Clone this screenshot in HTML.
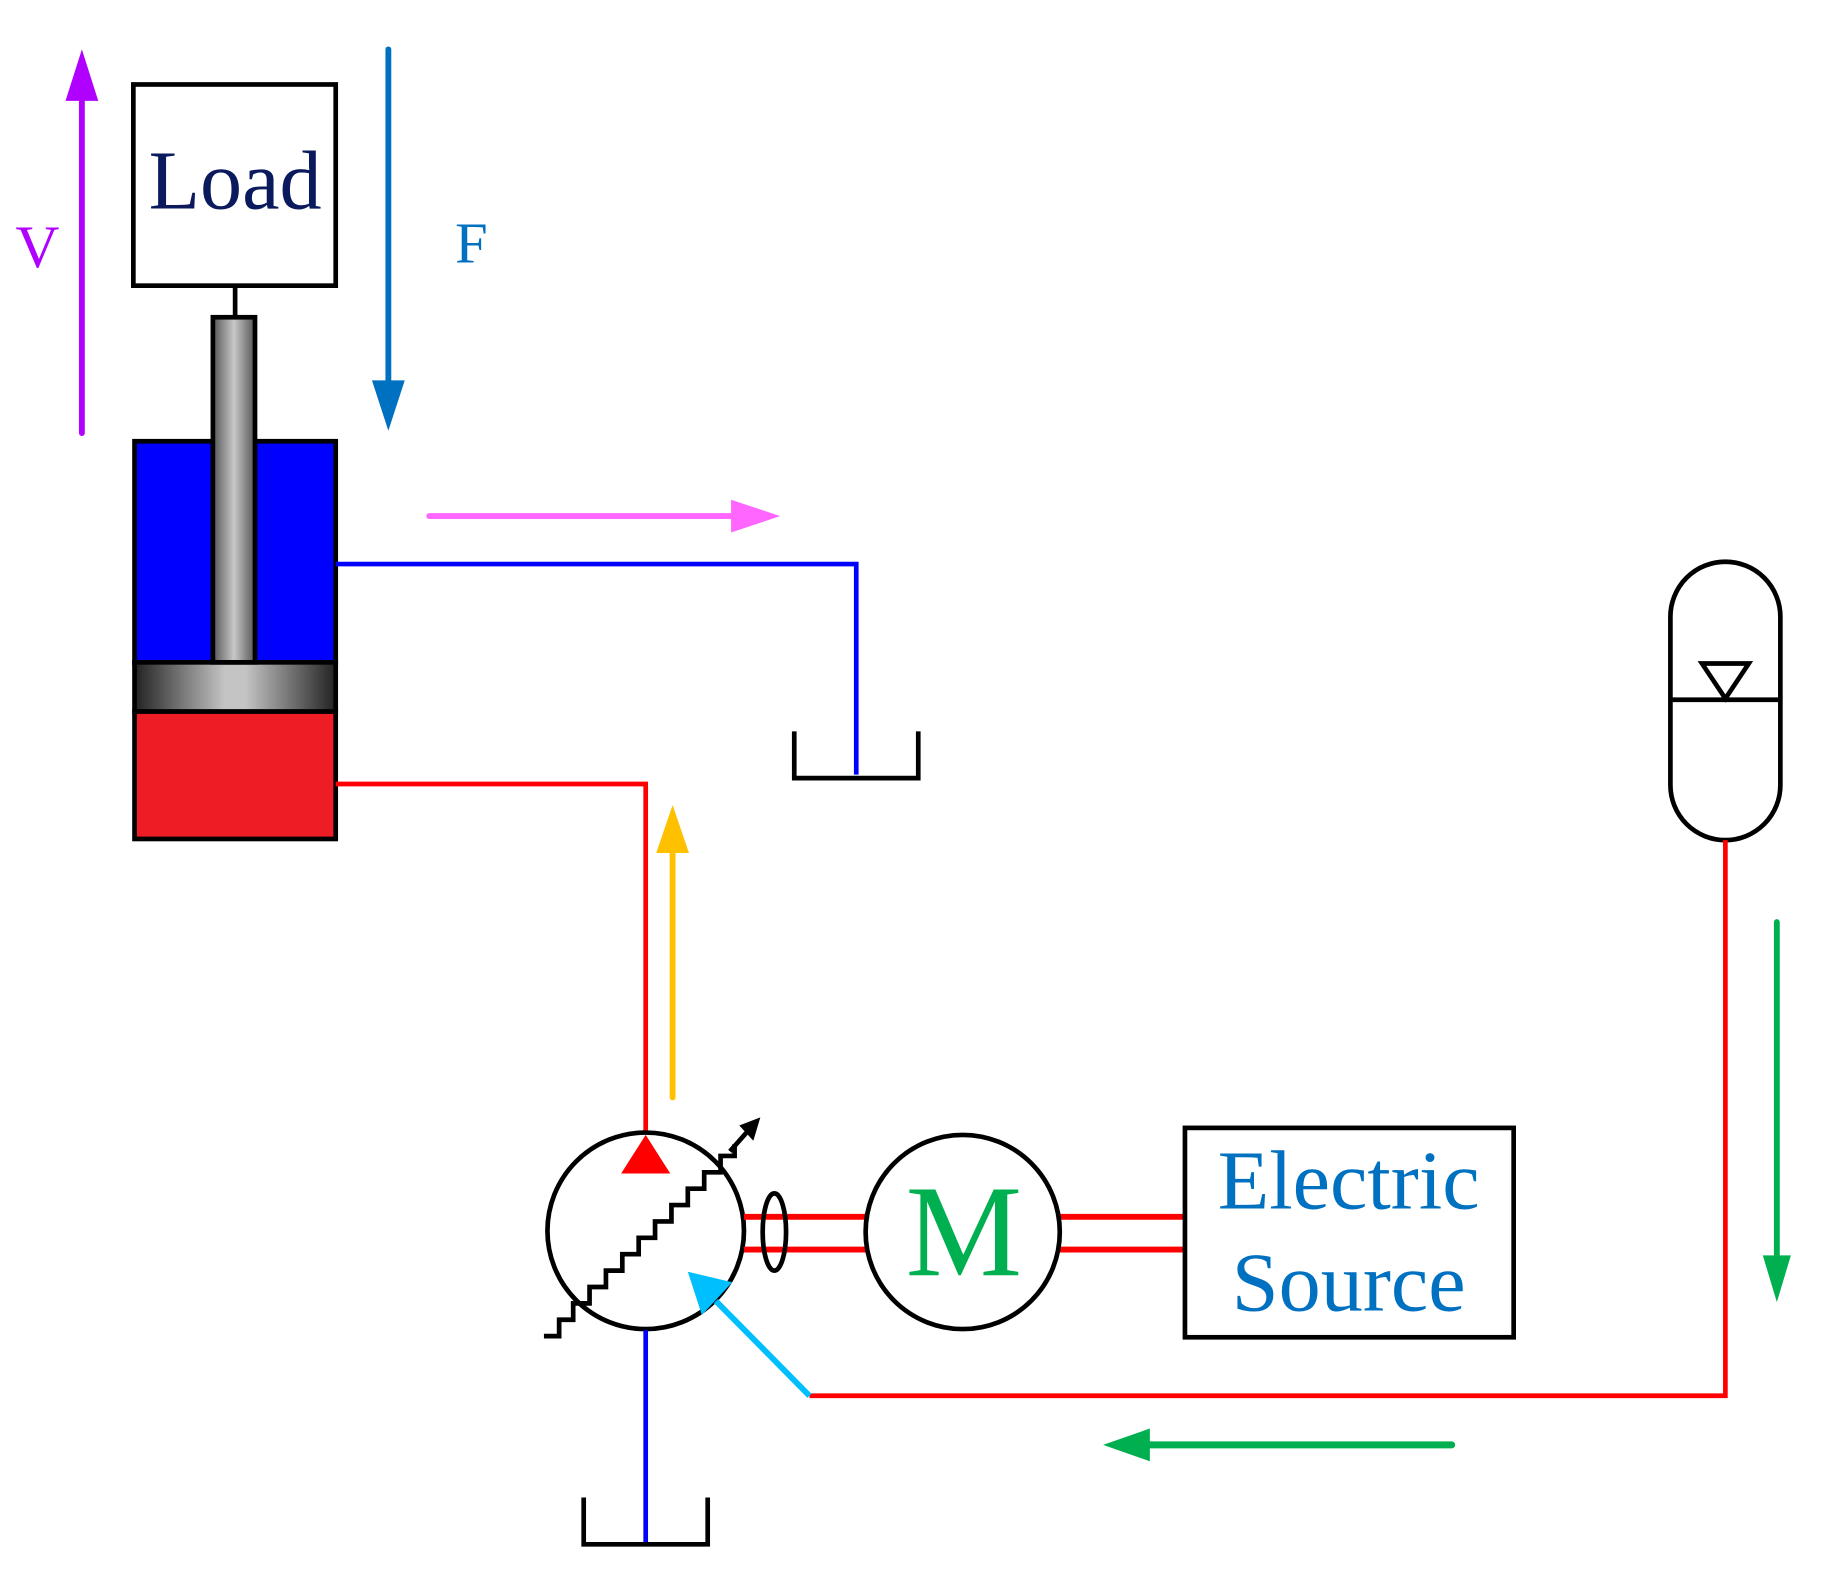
<!DOCTYPE html>
<html><head><meta charset="utf-8"><style>html,body{margin:0;padding:0;background:#fff}svg{display:block}</style></head>
<body>
<svg width="1833" height="1582" viewBox="0 0 1567 1352" xmlns="http://www.w3.org/2000/svg">
<defs>
<linearGradient id="rod" x1="0" x2="1" y1="0" y2="0">
<stop offset="0" stop-color="#555"/><stop offset="0.5" stop-color="#c8c8c8"/><stop offset="1" stop-color="#555"/></linearGradient>
<linearGradient id="pis" x1="0" x2="1" y1="0" y2="0">
<stop offset="0" stop-color="#222"/><stop offset="0.45" stop-color="#c4c4c4"/><stop offset="0.55" stop-color="#c4c4c4"/><stop offset="1" stop-color="#222"/></linearGradient>
</defs>
<line x1="70" y1="370" x2="70" y2="80" stroke="#b000ff" stroke-width="5" stroke-linecap="round"/>
<polygon points="56,86 84,86 70,42" fill="#b000ff"/>
<text x="32" y="228" font-family="Liberation Serif, serif" font-size="52" fill="#b000ff" text-anchor="middle">V</text>
<rect x="114" y="72" width="173" height="172" fill="#fff" stroke="#000" stroke-width="4"/>
<text x="201" y="178" font-family="Liberation Serif, serif" font-size="72" fill="#0a1a5c" text-anchor="middle">Load</text>
<line x1="201" y1="244" x2="201" y2="272" stroke="#000" stroke-width="4"/>
<rect x="115" y="377" width="172" height="190" fill="#0000ff" stroke="#000" stroke-width="4"/>
<rect x="115" y="608" width="172" height="109" fill="#ee1c25" stroke="#000" stroke-width="4"/>
<rect x="115" y="566" width="172" height="42" fill="url(#pis)" stroke="#000" stroke-width="4"/>
<rect x="182" y="271" width="36" height="295" fill="url(#rod)" stroke="#000" stroke-width="4"/>
<line x1="332" y1="42" x2="332" y2="330" stroke="#0070c0" stroke-width="5" stroke-linecap="round"/>
<polygon points="318,325 346,325 332,368" fill="#0070c0"/>
<text x="403" y="224" font-family="Liberation Serif, serif" font-size="50" fill="#0070c0" text-anchor="middle">F</text>
<line x1="367" y1="441" x2="630" y2="441" stroke="#ff66ff" stroke-width="5" stroke-linecap="round"/>
<polygon points="625,427 667,441 625,455" fill="#ff66ff"/>
<polyline points="287,482 732,482 732,662" fill="none" stroke="#0000ff" stroke-width="4"/>
<polyline points="679,625 679,665 785,665 785,625" fill="none" stroke="#000" stroke-width="4"/>
<polyline points="287,670 552,670 552,975" fill="none" stroke="#ff0000" stroke-width="4"/>
<line x1="575" y1="938" x2="575" y2="725" stroke="#ffc000" stroke-width="5" stroke-linecap="round"/>
<polygon points="561,729 589,729 575,688" fill="#ffc000"/>
<circle cx="552" cy="1052" r="84" fill="#fff" stroke="#000" stroke-width="4"/>
<polygon points="531,1003 573,1003 552,970" fill="#ff0000"/>
<polyline points="465,1142 478,1142 478,1128 490,1128 490,1114 504,1114 504,1100 518,1100 518,1086 532,1086 532,1072 546,1072 546,1058 560,1058 560,1044 574,1044 574,1030 588,1030 588,1016 602,1016 602,1002 616,1002 616,988 628,988 628,978" fill="none" stroke="#000" stroke-width="4"/>
<line x1="624" y1="984" x2="640" y2="966" stroke="#000" stroke-width="4"/>
<polygon points="632,962 650,955 644,975" fill="#000"/>
<line x1="552" y1="1137" x2="552" y2="1320" stroke="#0000ff" stroke-width="4"/>
<polyline points="499,1280 499,1320 605,1320 605,1280" fill="none" stroke="#000" stroke-width="4"/>
<line x1="636" y1="1040" x2="741" y2="1040" stroke="#ff0000" stroke-width="5"/>
<line x1="636" y1="1068" x2="741" y2="1068" stroke="#ff0000" stroke-width="5"/>
<ellipse cx="662" cy="1053" rx="10" ry="33" fill="none" stroke="#000" stroke-width="4"/>
<line x1="906" y1="1040" x2="1013" y2="1040" stroke="#ff0000" stroke-width="5"/>
<line x1="906" y1="1068" x2="1013" y2="1068" stroke="#ff0000" stroke-width="5"/>
<circle cx="823" cy="1053" r="83" fill="#fff" stroke="#000" stroke-width="4"/>
<text x="824" y="1090" font-family="Liberation Serif, serif" font-size="112" fill="#00b050" text-anchor="middle">M</text>
<rect x="1013" y="964" width="281" height="179" fill="#fff" stroke="#000" stroke-width="4"/>
<text x="1153" y="1033" font-family="Liberation Serif, serif" font-size="72" fill="#0070c0" text-anchor="middle">Electric</text>
<text x="1153" y="1120" font-family="Liberation Serif, serif" font-size="72" fill="#0070c0" text-anchor="middle">Source</text>
<rect x="1428" y="480" width="94" height="238" rx="47" ry="47" fill="#fff" stroke="#000" stroke-width="4"/>
<line x1="1428" y1="598" x2="1522" y2="598" stroke="#000" stroke-width="4"/>
<polygon points="1455,567 1495,567 1475,597" fill="none" stroke="#000" stroke-width="4"/>
<polyline points="1475,718 1475,1193 692,1193" fill="none" stroke="#ff0000" stroke-width="4"/>
<line x1="692" y1="1193" x2="612" y2="1112" stroke="#00bfff" stroke-width="5"/>
<polygon points="588,1087 626,1096 600,1124" fill="#00bfff"/>
<line x1="1519" y1="788" x2="1519" y2="1080" stroke="#00b050" stroke-width="5" stroke-linecap="round"/>
<polygon points="1507,1073 1531,1073 1519,1113" fill="#00b050"/>
<line x1="1241" y1="1235" x2="975" y2="1235" stroke="#00b050" stroke-width="6" stroke-linecap="round"/>
<polygon points="983,1221 983,1249 943,1235" fill="#00b050"/>
</svg>
</body></html>
